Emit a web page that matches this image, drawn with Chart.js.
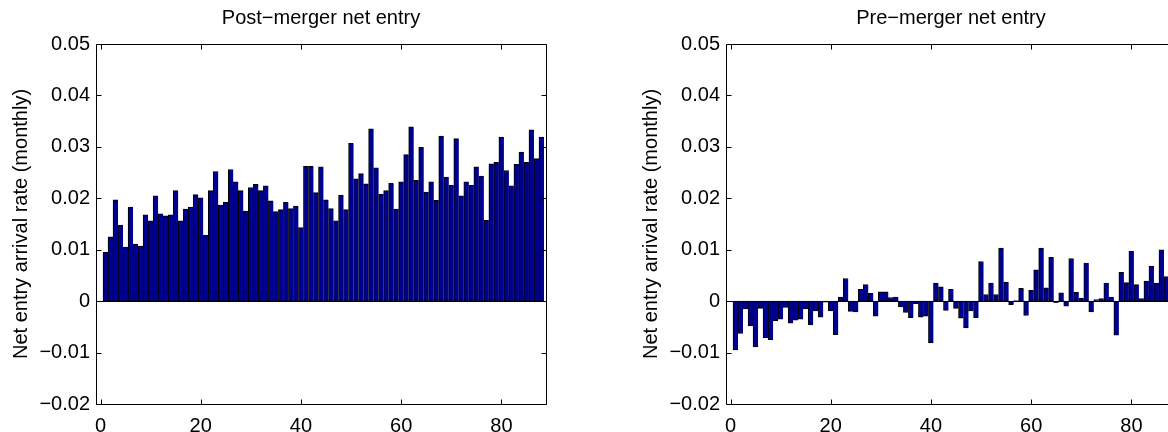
<!DOCTYPE html>
<html>
<head>
  <script src="https://cdn.jsdelivr.net/npm/chart.js@4.4.0/dist/chart.umd.min.js"></script>
<style>
  body { margin: 0; width: 1168px; height: 432px; overflow: hidden; background: #fff; position: relative; }
  canvas { position: absolute; top: 0; }
  #postChart { left: 0; }
  #preChart { left: 560px; }
</style>
</head>
<body>
  <canvas id="postChart" width="560" height="432"></canvas>
  <canvas id="preChart" width="640" height="432"></canvas>
  <script>
    // month index 1..88
    var months = [];
    for (var m = 1; m <= 88; m++) months.push(m);

    var postMerger = [
      0.0095, 0.0125, 0.0197, 0.0148, 0.0105, 0.0183, 0.0111, 0.0107, 0.0168, 0.0156,
      0.0205, 0.0170, 0.0166, 0.0168, 0.0215, 0.0156, 0.0179, 0.0183, 0.0207, 0.0201,
      0.0128, 0.0215, 0.0252, 0.0187, 0.0192, 0.0256, 0.0232, 0.0215, 0.0175, 0.0221,
      0.0227, 0.0215, 0.0224, 0.0195, 0.0174, 0.0178, 0.0192, 0.0180, 0.0185, 0.0143,
      0.0262, 0.0262, 0.0211, 0.0261, 0.0197, 0.0180, 0.0156, 0.0206, 0.0178, 0.0307,
      0.0238, 0.0248, 0.0228, 0.0335, 0.0259, 0.0208, 0.0215, 0.0229, 0.0179, 0.0232,
      0.0285, 0.0339, 0.0235, 0.0299, 0.0212, 0.0232, 0.0196, 0.0321, 0.0241, 0.0225,
      0.0316, 0.0205, 0.0232, 0.0225, 0.0261, 0.0243, 0.0157, 0.0267, 0.0270, 0.0319,
      0.0254, 0.0224, 0.0266, 0.0290, 0.0270, 0.0333, 0.0277, 0.0319
    ];

    var preMerger = [
      -0.0095, -0.0063, -0.0015, -0.0048, -0.0089, -0.0014, -0.0071, -0.0075, -0.0038, -0.0035,
      -0.0012, -0.0043, -0.0037, -0.0035, -0.0015, -0.0046, -0.0019, -0.0031, -0.0002, -0.0019,
      -0.0065, 0.0008, 0.0044, -0.0020, -0.0021, 0.0023, 0.0032, 0.0015, -0.0029, 0.0018,
      0.0018, 0.0007, 0.0008, -0.0011, -0.0022, -0.0032, -0.0005, -0.0031, -0.0029, -0.0081,
      0.0035, 0.0028, -0.0018, 0.0023, -0.0014, -0.0033, -0.0052, -0.0019, -0.0032, 0.0077,
      0.0013, 0.0035, 0.0013, 0.0103, 0.0037, -0.0007, 0.0001, 0.0025, -0.0028, 0.0021,
      0.0061, 0.0103, 0.0026, 0.0085, -0.0003, 0.0016, -0.0010, 0.0083, 0.0017, 0.0006,
      0.0074, -0.0021, 0.0003, 0.0005, 0.0035, 0.0008, -0.0066, 0.0056, 0.0036, 0.0097,
      0.0032, 0.0005, 0.0039, 0.0068, 0.0035, 0.0100, 0.0048, 0.0050
    ];

    var xTicks = [0, 20, 40, 60, 80];
    var yTicks = [-0.02, -0.01, 0, 0.01, 0.02, 0.03, 0.04, 0.05];
    var yLabel = 'Net entry arrival rate (monthly)';

    Chart.defaults.font.family = '"Liberation Sans", Arial, Helvetica, sans-serif';
    Chart.defaults.color = '#000';

    function fmtY(v) {
      v = Math.round(v * 100) / 100;
      if (v === 0) return '0';
      return (v < 0 ? '\u2212' : '') + Math.abs(v).toFixed(2);
    }

    // matlab style box, inward ticks, bar baseline and title
    var boxPlugin = {
      id: 'matlabBox',
      afterDraw: function (chart, args, opts) {
        var ctx = chart.ctx, a = chart.chartArea;
        var x = chart.scales.x, y = chart.scales.y;
        ctx.save();
        ctx.strokeStyle = '#000';
        ctx.lineWidth = 1;
        ctx.beginPath();
        var y0 = Math.round(y.getPixelForValue(0)) + 0.5;
        ctx.moveTo(a.left, y0); ctx.lineTo(a.right, y0);
        var L = Math.round(a.left) + 0.5, R = Math.round(a.right) + 0.5;
        var T = Math.round(a.top) + 0.5, B = Math.round(a.bottom) + 0.5;
        ctx.rect(L, T, R - L, B - T);
        xTicks.forEach(function (t) {
          var px = Math.round(x.getPixelForValue(t)) + 0.5;
          ctx.moveTo(px, B); ctx.lineTo(px, B - 5);
          ctx.moveTo(px, T); ctx.lineTo(px, T + 5);
        });
        yTicks.forEach(function (t) {
          var py = Math.round(y.getPixelForValue(t)) + 0.5;
          ctx.moveTo(L, py); ctx.lineTo(L + 5, py);
          ctx.moveTo(R, py); ctx.lineTo(R - 5, py);
        });
        ctx.stroke();
        ctx.fillStyle = '#000';
        ctx.font = '20px "Liberation Sans", Arial, sans-serif';
        ctx.textAlign = 'center';
        ctx.textBaseline = 'middle';
        ctx.fillText(opts.text, (a.left + a.right) / 2, 18);
        ctx.restore();
      }
    };

    function makeChart(id, title, values, padLeft, padRight) {
      var pts = values.map(function (v, i) { return { x: months[i], y: v }; });
      return new Chart(document.getElementById(id), {
        type: 'bar',
        data: {
          datasets: [{
            data: pts,
            backgroundColor: '#00008f',
            borderColor: '#000',
            borderWidth: { left: 1, top: 1, bottom: 1, right: 0 },
            borderSkipped: false,
            barPercentage: 1,
            categoryPercentage: 1
          }]
        },
        options: {
          responsive: false,
          animation: false,
          devicePixelRatio: 1,
          layout: { padding: { left: padLeft, right: padRight, top: 44, bottom: 0 } },
          plugins: {
            legend: { display: false },
            tooltip: { enabled: false },
            matlabBox: { text: title }
          },
          scales: {
            x: {
              type: 'linear',
              min: -0.9,
              max: 88.9,
              offset: false,
              afterFit: function (s) { s.height = 28; },
              grid: { display: false, drawTicks: false, offset: false },
              border: { display: false },
              afterBuildTicks: function (s) { s.ticks = xTicks.map(function (v) { return { value: v }; }); },
              ticks: { padding: 10, font: { size: 20 }, maxRotation: 0, autoSkip: false }
            },
            y: {
              min: -0.02,
              max: 0.05,
              afterFit: function (s) { s.width = 96; },
              grid: { display: false, drawTicks: false },
              border: { display: false },
              afterBuildTicks: function (s) { s.ticks = yTicks.map(function (v) { return { value: v }; }); },
              ticks: { padding: 6, font: { size: 20 }, callback: fmtY },
              title: { display: true, text: yLabel, font: { size: 20 }, padding: { top: 9, bottom: 0 } }
            }
          }
        },
        plugins: [boxPlugin]
      });
    }

    makeChart('postChart', 'Post\u2212merger net entry', postMerger, 0, 14);
    makeChart('preChart', 'Pre\u2212merger net entry', preMerger, 70, 24);
  </script>
</body>
</html>
